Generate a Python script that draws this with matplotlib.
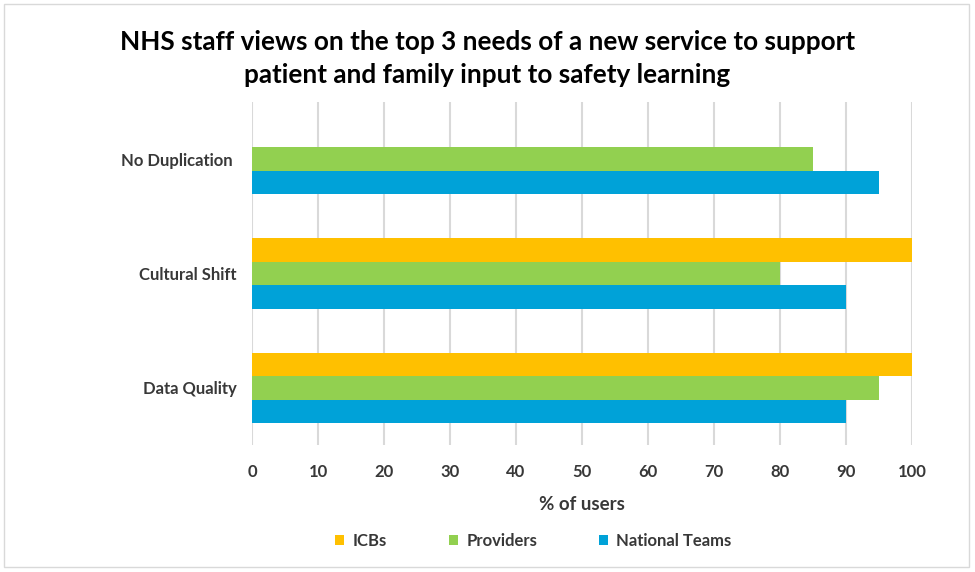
import matplotlib.pyplot as plt
import numpy as np
from matplotlib.patches import Rectangle, Patch

# Data (bottom to top, as drawn)
categories = ["Data Quality", "Cultural Shift", "No Duplication "]
icbs = [100, 100, 0]
providers = [95, 80, 85]
national_teams = [90, 90, 95]
series_names = ["ICBs", "Providers", "National Teams"]
colors = ["#FFC000", "#92D050", "#00A2D8"]
ticks = list(range(0, 101, 10))

plt.rcParams['font.family'] = ['Lato', 'DejaVu Sans']
text_color = "#383838"

fig = plt.figure(figsize=(9.75, 5.72), dpi=100)
ax = fig.add_axes([0.2585, 0.222, 0.677, 0.5997])

y = np.arange(len(categories))
h = 0.205
for vals, off, col in zip([icbs, providers, national_teams], [h, 0, -h], colors):
    ax.barh(y + off, vals, height=h, color=col, zorder=3)

ax.set_xlim(0, 100)
ax.set_ylim(-0.5, len(categories) - 0.5)
ax.set_xticks(ticks)
ax.set_yticks(y)
ax.set_yticklabels(categories)
ax.grid(axis='x', color="#D9D9D9", linewidth=1.5, zorder=0)
ax.tick_params(length=0, colors=text_color, labelsize=12)
ax.tick_params(axis='x', pad=14)
ax.tick_params(axis='y', pad=11)
for lbl in ax.get_xticklabels() + ax.get_yticklabels():
    lbl.set_fontweight('bold')
for s in ax.spines.values():
    s.set_visible(False)

ax.set_xlabel("% of users", fontsize=13.5, fontweight='bold', color=text_color, labelpad=11)

fig.text(0.5, 0.897, "NHS staff views on the top 3 needs of a new service to support\npatient and family input to safety learning",
         ha='center', va='center', fontsize=18.8, fontweight='bold', color="#000000", linespacing=1.45)

handles = [Patch(facecolor=c) for c in colors]
leg = fig.legend(handles, series_names, loc='center', bbox_to_anchor=(0.547, 0.054), ncol=3,
                 frameon=False, handlelength=0.55, handleheight=0.55, handletextpad=0.5,
                 columnspacing=3.7, prop={'weight': 'bold', 'size': 12})
for t in leg.get_texts():
    t.set_color(text_color)

fig.patches.append(Rectangle((0.004, 0.008), 0.99, 0.985, transform=fig.transFigure,
                             fill=False, edgecolor="#D9D9D9", linewidth=1))

fig.savefig("out.png", dpi=100)
